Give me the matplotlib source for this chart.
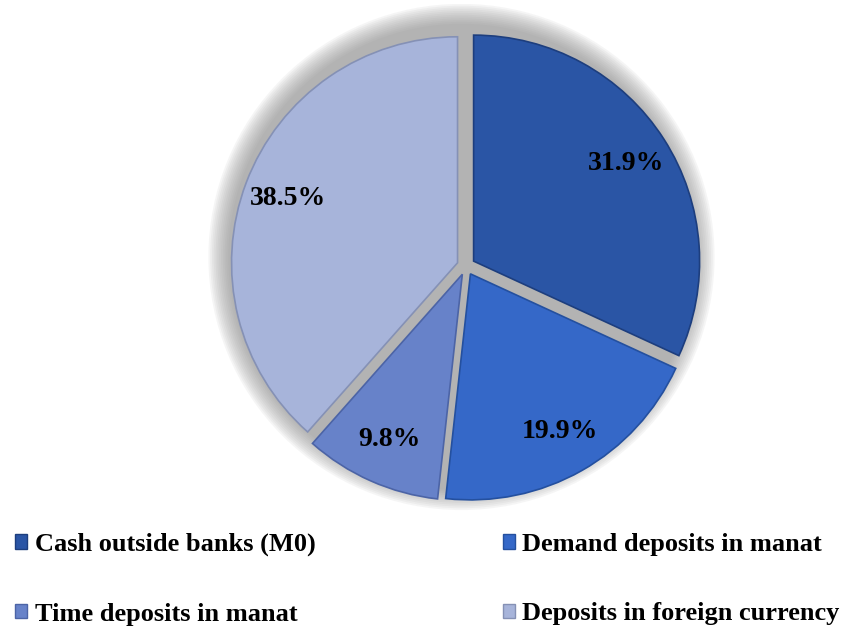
"""
Broad money (M2) structure pie chart, recreated with matplotlib.
"""

import matplotlib.pyplot as plt
from matplotlib.patches import Circle, Patch

categories = [
    "Cash outside banks (M0)",
    "Demand deposits in manat",
    "Time deposits in manat",
    "Deposits in foreign currency",
]
shares = [31.9, 19.9, 9.8, 38.5]
colors = ["#2A55A5", "#3568C8", "#6782C9", "#A7B4DA"]
edge_colors = ["#1D3E7E", "#24509F", "#4C64A6", "#8591B5"]

plt.rcParams["font.family"] = ["Liberation Serif", "DejaVu Serif"]

W, H = 848, 631
fig = plt.figure(figsize=(W / 100, H / 100), dpi=100)

# pie centre (pixels from top-left) and radius
cx, cy, r = 466, 266, 226
half = 262
ax = fig.add_axes([(cx - half) / W, (H - cy - half) / H, 2 * half / W, 2 * half / H])
lim = half / r

# soft grey shadow behind the pie
for k in range(12):
    ax.add_patch(Circle((-0.02, 0.04), 1.12 - k * 0.008, color="#8c8c8c",
                        alpha=0.08, lw=0, zorder=0))

wedges, texts, autotexts = ax.pie(
    shares,
    colors=colors,
    startangle=90,
    counterclock=False,
    explode=[0.04] * len(shares),
    autopct=lambda p: f"{p:.1f}%",
    pctdistance=0.8,
    radius=1.0,
    wedgeprops=dict(linewidth=1.2),
    textprops=dict(fontsize=20, fontweight="bold", color="black"),
)
for w, ec in zip(wedges, edge_colors):
    w.set_edgecolor(ec)
    w.set_zorder(2)
for t in autotexts:
    t.set_zorder(3)

ax.set_xlim(-lim, lim)
ax.set_ylim(-lim, lim)
ax.set_aspect("equal")
ax.axis("off")

handles = [Patch(facecolor=c, edgecolor=e, lw=1) for c, e in zip(colors, edge_colors)]
order = [0, 2, 1, 3]
fig.legend(
    [handles[i] for i in order],
    [categories[i] for i in order],
    ncol=2,
    loc="lower left",
    bbox_to_anchor=(-0.0106, -0.029),
    frameon=False,
    prop=dict(size=19, weight="bold"),
    handlelength=0.45,
    handleheight=0.45,
    handletextpad=0.3,
    labelspacing=1.75,
    columnspacing=7.1,
)

fig.savefig("out.png", dpi=100)
